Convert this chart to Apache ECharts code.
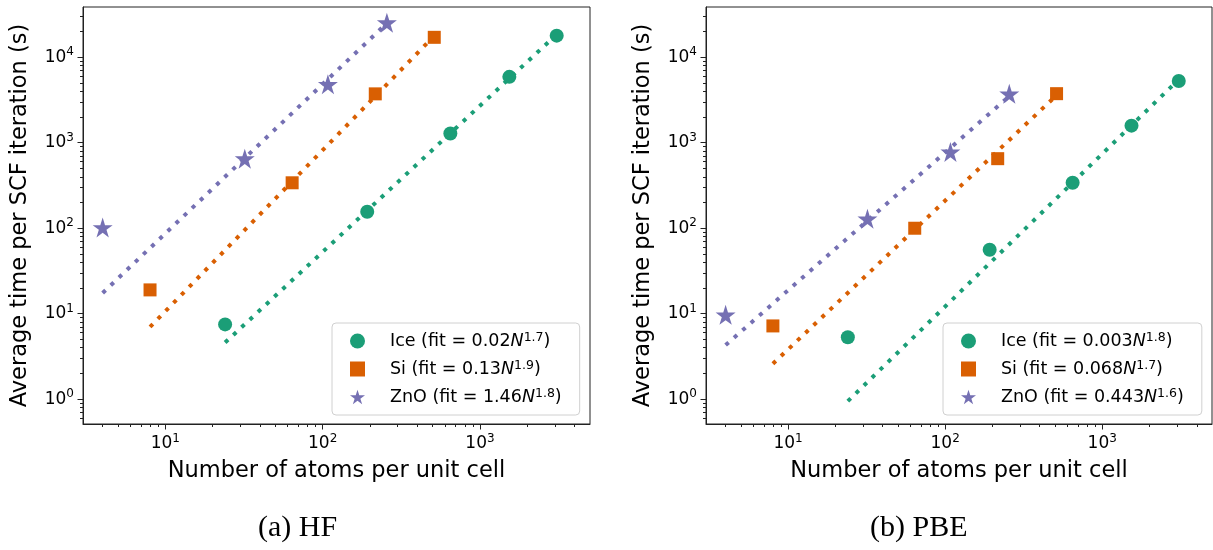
<!DOCTYPE html>
<html><head><meta charset="utf-8">
<script src="https://cdn.jsdelivr.net/npm/echarts@6/dist/echarts.min.js"></script>
<style>html,body{margin:0;padding:0;background:#fff}#c{width:1213px;height:550px}</style>
</head><body><div id="c"></div>
<script>
// ---------- data ----------
const materials = ['Ice', 'Si', 'ZnO'];

// HF panel (a)
const hfIceN = [24, 192, 648, 1536, 3072];
const hfIceT = [7.5, 156, 1280, 5900, 17900];
const hfSiN = [8, 64, 216, 512];
const hfSiT = [19, 340, 3730, 17100];
const hfZnoN = [4, 32, 108, 256];
const hfZnoT = [102, 650, 4830, 25400];
const hfFitN = [[24, 3072], [8, 512], [4, 256]];
const hfFitT = [[4.6, 18500], [7.0, 17800], [17.5, 25000]];
const hfFitCoef = ['0.02', '0.13', '1.46'];
const hfFitExp = ['1.7', '1.9', '1.8'];

// PBE panel (b)
const pbeIceN = [24, 192, 648, 1536, 3072];
const pbeIceT = [5.3, 56, 341, 1585, 5280];
const pbeSiN = [8, 64, 216, 512];
const pbeSiT = [7.2, 100, 651, 3750];
const pbeZnoN = [4, 32, 108, 256];
const pbeZnoT = [9.7, 129, 780, 3730];
const pbeFitN = [[24, 3072], [8, 512], [4, 256]];
const pbeFitT = [[0.95, 5500], [2.6, 3600], [4.3, 3500]];
const pbeFitCoef = ['0.003', '0.068', '0.443'];
const pbeFitExp = ['1.8', '1.7', '1.6'];

// axes
const xMajorTicks = [10, 100, 1000];
const xMinorTicks = [4, 5, 6, 7, 8, 9, 20, 30, 40, 50, 60, 70, 80, 90, 200, 300, 400, 500, 600, 700, 800, 900, 2000, 3000, 4000];
const yMajorTicks = [1, 10, 100, 1000, 10000];
const yMinorTicks = [0.6, 0.7, 0.8, 0.9, 2, 3, 4, 5, 6, 7, 8, 9, 20, 30, 40, 50, 60, 70, 80, 90, 200, 300, 400, 500, 600, 700, 800, 900, 2000, 3000, 4000, 5000, 6000, 7000, 8000, 9000, 20000, 30000];
const xRange = [3, 5000];
const yRange = [0.513, 38700];
const xTitle = 'Number of atoms per unit cell';
const yTitle = 'Average time per SCF iteration (s)';
const captions = ['(a) HF', '(b) PBE'];

// ---------- styles ----------
const COLORS = ['#1b9e77', '#d95f02', '#7570b3'];
const STAR = 'path://M50,0L61.23,34.55L97.55,34.55L68.17,55.9L79.39,90.45L50,69.1L20.61,90.45L31.83,55.9L2.45,34.55L38.77,34.55Z';
const SYMBOLS = ['circle', 'rect', STAR];
const SYMSIZE = [14, 13, 20];
const FONT = 'DejaVu Sans';
const AXC = '#222';

const tickRich = {
  sup: {fontSize: 12, fontFamily: FONT, color: '#000', verticalAlign: 'top', lineHeight: 12}
};
const legRich = {
  sup: {fontSize: 12.5, fontFamily: FONT, color: '#000', verticalAlign: 'top', lineHeight: 12.5},
  it: {fontSize: 17.5, fontFamily: FONT, color: '#000', fontStyle: 'italic', lineHeight: 20}
};

function pairs(xs, ys) { return xs.map((x, i) => [x, ys[i]]); }
function expLabel(v) { return '10{sup|' + Math.round(Math.log10(v)) + '}'; }

const grids = [
  {left: 83, top: 7, width: 507, height: 417},
  {left: 706, top: 7, width: 506, height: 417}
];

const xAxis = [], yAxis = [], series = [], legend = [];
const panels = [
  {N: [hfIceN, hfSiN, hfZnoN], T: [hfIceT, hfSiT, hfZnoT], fitN: hfFitN, fitT: hfFitT, coef: hfFitCoef, exp: hfFitExp, legendPos: [332, 323]},
  {N: [pbeIceN, pbeSiN, pbeZnoN], T: [pbeIceT, pbeSiT, pbeZnoT], fitN: pbeFitN, fitT: pbeFitT, coef: pbeFitCoef, exp: pbeFitExp, legendPos: [943, 323]}
];

const labelMap = {};

panels.forEach((p, gi) => {
  xAxis.push({
    type: 'log', logBase: 10, gridIndex: gi, min: xRange[0], max: xRange[1], position: 'bottom',
    name: xTitle, nameLocation: 'middle', nameGap: 35,
    nameTextStyle: {fontFamily: FONT, fontSize: 22.5, color: '#000', lineHeight: 22},
    axisLine: {show: true, lineStyle: {color: AXC, width: 1}},
    axisTick: {show: true, customValues: xMajorTicks, length: 5.5, lineStyle: {color: AXC, width: 1}},
    axisLabel: {show: true, customValues: xMajorTicks, margin: 9, formatter: expLabel,
      fontFamily: FONT, fontSize: 17, color: '#000', lineHeight: 22, rich: tickRich},
    splitLine: {show: false}, minorTick: {show: false}
  });
  xAxis.push({
    type: 'log', logBase: 10, gridIndex: gi, min: xRange[0], max: xRange[1], position: 'bottom',
    axisLine: {show: false},
    axisTick: {show: true, customValues: xMinorTicks, length: 3, lineStyle: {color: AXC, width: 1}},
    axisLabel: {show: false}, splitLine: {show: false}
  });
  yAxis.push({
    type: 'log', logBase: 10, gridIndex: gi, min: yRange[0], max: yRange[1], position: 'left',
    name: yTitle, nameLocation: 'middle', nameGap: 52,
    nameTextStyle: {fontFamily: FONT, fontSize: 22.5, color: '#000', lineHeight: 22},
    axisLine: {show: true, lineStyle: {color: AXC, width: 1}},
    axisTick: {show: true, customValues: yMajorTicks, length: 5.5, lineStyle: {color: AXC, width: 1}},
    axisLabel: {show: true, customValues: yMajorTicks, margin: 9, formatter: expLabel,
      fontFamily: FONT, fontSize: 17, color: '#000', lineHeight: 22, rich: tickRich},
    splitLine: {show: false}, minorTick: {show: false}
  });
  yAxis.push({
    type: 'log', logBase: 10, gridIndex: gi, min: yRange[0], max: yRange[1], position: 'left',
    axisLine: {show: false},
    axisTick: {show: true, customValues: yMinorTicks, length: 3, lineStyle: {color: AXC, width: 1}},
    axisLabel: {show: false}, splitLine: {show: false}
  });

  const names = [];
  materials.forEach((m, k) => {
    const name = m + ' (fit = ' + p.coef[k] + 'N^' + p.exp[k] + ')';
    labelMap[name] = m + ' (fit = ' + p.coef[k] + '{it|N}{sup|' + p.exp[k] + '})';
    names.push(name);
    series.push({
      type: 'line', xAxisIndex: gi * 2, yAxisIndex: gi * 2, z: 2, silent: true,
      data: pairs(p.fitN[k], p.fitT[k]), showSymbol: false, symbol: 'none',
      lineStyle: {color: COLORS[k], width: 4, type: [4, 7.2], cap: 'butt'}
    });
    series.push({
      type: 'scatter', name: name, xAxisIndex: gi * 2, yAxisIndex: gi * 2, z: 3,
      data: pairs(p.N[k], p.T[k]), symbol: SYMBOLS[k], symbolSize: SYMSIZE[k],
      itemStyle: {color: COLORS[k], opacity: 1}
    });
  });
  legend.push({
    data: names, orient: 'vertical', left: p.legendPos[0], top: p.legendPos[1],
    itemWidth: 15, itemHeight: 15, itemGap: 8, padding: [8, 18, 8, 18],
    borderColor: '#d0d0d0', borderWidth: 1, borderRadius: 4, backgroundColor: 'rgba(255,255,255,0.85)',
    selectedMode: false,
    formatter: n => labelMap[n],
    textStyle: {fontFamily: FONT, fontSize: 17.5, color: '#000', lineHeight: 20, padding: [0, 0, 0, 20], rich: legRich}
  });
});

const option = {
  animation: false,
  backgroundColor: '#fff',
  grid: grids.map(g => Object.assign({show: true, borderColor: AXC, borderWidth: 1, backgroundColor: '#fff'}, g)),
  xAxis, yAxis, series, legend,
  graphic: [
    {type: 'text', top: 513, left: 258, style: {text: captions[0], fontFamily: 'Liberation Serif', fontSize: 30, fill: '#000'}},
    {type: 'text', top: 513, left: 870, style: {text: captions[1], fontFamily: 'Liberation Serif', fontSize: 30, fill: '#000'}}
  ]
};

const chart = echarts.init(document.getElementById('c'), null, {renderer: 'canvas'});
chart.setOption(option);
</script></body></html>
